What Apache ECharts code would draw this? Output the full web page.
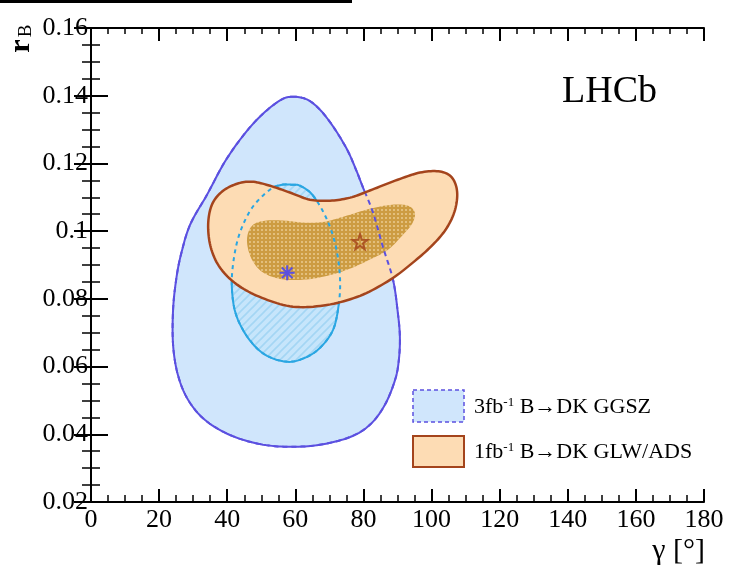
<!DOCTYPE html>
<html><head><meta charset="utf-8">
<script src="https://cdn.jsdelivr.net/npm/echarts@6/dist/echarts.min.js"></script>
<style>html,body{margin:0;padding:0;background:#fff}#c{width:739px;height:576px}</style>
</head><body><div id="c"></div>
<script>
// ---- data (gamma in degrees, r_B) ----
const xTicks = [0,20,40,60,80,100,120,140,160,180];
const yTicks = [0.02,0.04,0.06,0.08,0.1,0.12,0.14,0.16];
const ggszOuter = [[59.0,0.1397],[63.4,0.1389],[67.2,0.1359],[71.1,0.1309],[75.2,0.1241],[77.8,0.1182],[79.9,0.1128],[82.8,0.1055],[85.7,0.0954],[88.7,0.0856],[90.1,0.0759],[90.7,0.0688],[90.4,0.0620],[89.3,0.0561],[86.3,0.0487],[81.9,0.0428],[76.1,0.0392],[67.2,0.0369],[58.4,0.0363],[49.6,0.0371],[40.8,0.0398],[33.5,0.0442],[28.5,0.0502],[25.5,0.0576],[24.1,0.0664],[24.1,0.0768],[25.0,0.0856],[26.4,0.0930],[29.1,0.1019],[34.1,0.1108],[39.3,0.1205],[44.9,0.1285],[50.2,0.1344],[55.5,0.1386]];
const ggszInner = [[59.0,0.1137],[61.4,0.1134],[65.2,0.1105],[69.3,0.1034],[71.9,0.0954],[73.1,0.0865],[72.8,0.0788],[71.1,0.0709],[67.2,0.0655],[62.8,0.0626],[57.6,0.0614],[51.1,0.0635],[46.1,0.0685],[42.6,0.0753],[41.4,0.0827],[41.7,0.0901],[43.5,0.0989],[47.3,0.1069],[52.6,0.1123],[56.1,0.1137]];
const glwOuter = [[34.4,0.1019],[35.5,0.1078],[38.5,0.1117],[42.9,0.1140],[47.3,0.1146],[52.6,0.1134],[58.4,0.1114],[64.3,0.1093],[70.2,0.1090],[76.1,0.1099],[81.9,0.1120],[89.3,0.1149],[96.6,0.1173],[102.5,0.1176],[106.0,0.1158],[107.5,0.1117],[106.9,0.1063],[104.5,0.1010],[100.4,0.0960],[94.5,0.0907],[87.8,0.0856],[79.0,0.0809],[69.3,0.0782],[59.3,0.0777],[50.2,0.0803],[42.9,0.0842],[37.9,0.0892],[35.2,0.0951]];
const glwInner = [[45.8,0.0975],[47.3,0.1016],[51.1,0.1031],[57.0,0.1031],[62.8,0.1025],[68.7,0.1028],[75.2,0.1046],[81.9,0.1066],[88.4,0.1078],[93.1,0.1075],[95.1,0.1054],[94.3,0.1022],[91.3,0.0986],[87.2,0.0945],[81.9,0.0916],[75.2,0.0886],[68.1,0.0865],[61.4,0.0856],[55.5,0.0859],[50.2,0.0880],[47.0,0.0921]];
const ggszBest = [[57.6,0.0877]];
const glwBest = [[79.0,0.0969]];
const legendLabels = ['3fb','-1',' B\u2192DK GGSZ','1fb','-1',' B\u2192DK GLW/ADS'];

// ---- styles ----
const SERIF = 'Liberation Serif, Times New Roman, serif';
const C_BLUE_FILL = '#d0e6fc', C_PURPLE = '#5b50e0', C_CYAN = '#2aa6e2';
const C_ORANGE = '#fddcb4', C_BROWN = '#a4441c';

function makeDots(){
  const c=document.createElement('canvas'); c.width=4; c.height=4;
  const g=c.getContext('2d'); g.fillStyle='#cd9c42'; g.fillRect(0,0,4,4);
  g.fillStyle='#e3bf7c'; g.fillRect(1,1,2,2); return c;
}
function makeHatch(){
  const c=document.createElement('canvas'); c.width=8; c.height=8;
  const g=c.getContext('2d'); g.fillStyle='#c6e5fb'; g.fillRect(0,0,8,8);
  g.strokeStyle='#a4d6f4'; g.lineWidth=1.6;
  g.beginPath(); g.moveTo(-2,10); g.lineTo(10,-2); g.moveTo(-6,6); g.lineTo(6,-6); g.moveTo(2,14); g.lineTo(14,2); g.stroke();
  return c;
}
const dotPattern = {image: makeDots(), repeat: 'repeat'};
const hatchPattern = {image: makeHatch(), repeat: 'repeat'};

// closed Catmull-Rom smoothing in pixel space (for drawing only)
function smoothClosed(P, n){
  const out=[]; const N=P.length;
  for(let i=0;i<N;i++){
    const p0=P[(i-1+N)%N], p1=P[i], p2=P[(i+1)%N], p3=P[(i+2)%N];
    for(let k=0;k<n;k++){
      const t=k/n, t2=t*t, t3=t2*t;
      const f=(a,b,c,d)=>0.5*((2*b)+(-a+c)*t+(2*a-5*b+4*c-d)*t2+(-a+3*b-3*c+d)*t3);
      out.push([f(p0[0],p1[0],p2[0],p3[0]), f(p0[1],p1[1],p2[1],p3[1])]);
    }
  }
  return out;
}

function poly(name, pts, style, z){
  return {
    type:'custom', name, z, silent:true, clip:true,
    data: pts,
    encode:{x:0,y:1},
    renderItem: function(params, api){
      if (params.dataIndex !== 0) return null;
      const points = smoothClosed(pts.map(p => api.coord(p)), 10);
      return {type:'polygon', shape:{points}, style: Object.assign({}, style)};
    }
  };
}

const series = [
  poly('ggszOuterFill', ggszOuter, {fill:C_BLUE_FILL, stroke:C_PURPLE, lineWidth:2}, 2),
  poly('ggszInnerFill', ggszInner, {fill:hatchPattern, stroke:C_CYAN, lineWidth:2}, 3),
  poly('glwOuterFill', glwOuter, {fill:C_ORANGE, stroke:null}, 4),
  poly('glwInnerFill', glwInner, {fill:dotPattern, stroke:null}, 5),
  poly('ggszOuterDash', ggszOuter, {fill:null, stroke:C_PURPLE, lineWidth:2, lineDash:[5,4]}, 6),
  poly('ggszInnerDash', ggszInner, {fill:null, stroke:C_CYAN, lineWidth:2, lineDash:[4,4]}, 6),
  poly('glwOuterLine', glwOuter, {fill:null, stroke:C_BROWN, lineWidth:2.5}, 7),
  {
    type:'custom', name:'ggszBest', z:8, silent:true, data: ggszBest, encode:{x:0,y:1},
    renderItem: function(params, api){
      const c = api.coord([api.value(0), api.value(1)]); const r = 7.5;
      return {type:'group', children:[0,45,90,135].map(a => {
        const t=a*Math.PI/180;
        return {type:'line', shape:{x1:c[0]-r*Math.cos(t), y1:c[1]-r*Math.sin(t), x2:c[0]+r*Math.cos(t), y2:c[1]+r*Math.sin(t)}, style:{stroke:C_PURPLE, lineWidth:2}};
      })};
    }
  },
  {
    type:'scatter', name:'glwBest', z:8, silent:true, data: glwBest,
    symbol:'path://M0,-10 L2.35,-3.24 L9.51,-3.09 L3.8,1.24 L5.88,8.09 L0,4 L-5.88,8.09 L-3.8,1.24 L-9.51,-3.09 L-2.35,-3.24Z',
    symbolSize:15,
    itemStyle:{color:'rgba(0,0,0,0)', borderColor:C_BROWN, borderWidth:2}
  }
];

const axisLine = {show:true, lineStyle:{color:'#000', width:2}};
const fmtY = v => String(Math.round(v*100)/100);

const option = {
  animation:false,
  grid:{left:91, right:35, top:28, bottom:74, containLabel:false},
  xAxis:[
    {type:'value', position:'bottom', min:xTicks[0], max:xTicks[xTicks.length-1], interval:20,
     axisLine, splitLine:{show:false},
     axisTick:{show:true, inside:true, length:13, lineStyle:{color:'#000', width:2}},
     minorTick:{show:true, splitNumber:4, length:7, lineStyle:{color:'#000', width:1.5}},
     axisLabel:{show:true, margin:5, color:'#000', fontFamily:SERIF, fontSize:26}},
    {type:'value', position:'top', min:xTicks[0], max:xTicks[xTicks.length-1], interval:20,
     axisLine, splitLine:{show:false},
     axisTick:{show:true, inside:true, length:13, lineStyle:{color:'#000', width:2}},
     minorTick:{show:true, splitNumber:4, length:6, lineStyle:{color:'#000', width:1.5}},
     axisLabel:{show:false}}
  ],
  yAxis:[
    {type:'value', position:'left', min:yTicks[0], max:yTicks[yTicks.length-1], interval:0.02,
     axisLine, splitLine:{show:false},
     axisTick:{show:true, inside:true, length:17, lineStyle:{color:'#000', width:2}},
     minorTick:{show:true, splitNumber:4, length:9, lineStyle:{color:'#000', width:1.5}},
     axisLabel:{show:true, margin:3, color:'#000', fontFamily:SERIF, fontSize:26, formatter:fmtY}},
    {type:'value', position:'right', min:yTicks[0], max:yTicks[yTicks.length-1], interval:0.02,
     axisLine, splitLine:{show:false},
     axisTick:{show:true, inside:true, length:17, lineStyle:{color:'#000', width:2}},
     minorTick:{show:true, splitNumber:4, length:9, lineStyle:{color:'#000', width:1.5}},
     axisLabel:{show:false}}
  ],
  series,
  graphic:[
    {type:'rect', shape:{x:0,y:0,width:352,height:3}, style:{fill:'#000'}, silent:true},
    {type:'text', x:562, y:92, style:{text:'LHCb', fontFamily:SERIF, fontSize:38, fill:'#000', verticalAlign:'middle', align:'left'}, z:100},
    {type:'text', x:705, y:551, style:{text:'\u03b3 [\u00b0]', fontFamily:SERIF, fontSize:30, fill:'#000', verticalAlign:'middle', align:'right'}, z:100},
    {type:'text', x:21, y:46, rotation:Math.PI/2, style:{text:'r', fontFamily:SERIF, fontSize:30, fontWeight:'bold', fill:'#000', verticalAlign:'middle', align:'center'}, z:100},
    {type:'text', x:26, y:31, rotation:Math.PI/2, style:{text:'B', fontFamily:SERIF, fontSize:19, fill:'#000', verticalAlign:'middle', align:'center'}, z:100},
    {type:'rect', shape:{x:413,y:390,width:51,height:32}, style:{fill:C_BLUE_FILL, stroke:C_PURPLE, lineWidth:1.5, lineDash:[4,3]}, z:100},
    {type:'rect', shape:{x:413,y:436,width:51,height:31}, style:{fill:C_ORANGE, stroke:C_BROWN, lineWidth:2}, z:100},
    {type:'text', x:474, y:407, style:{text:'{n|'+legendLabels[0]+'}{s|'+legendLabels[1]+'}{n|'+legendLabels[2]+'}', verticalAlign:'middle', align:'left',
      rich:{n:{fontFamily:SERIF, fontSize:22, fill:'#000'}, s:{fontFamily:SERIF, fontSize:13, fill:'#000', verticalAlign:'top'}}}, z:100},
    {type:'text', x:474, y:452, style:{text:'{n|'+legendLabels[3]+'}{s|'+legendLabels[4]+'}{n|'+legendLabels[5]+'}', verticalAlign:'middle', align:'left',
      rich:{n:{fontFamily:SERIF, fontSize:22, fill:'#000'}, s:{fontFamily:SERIF, fontSize:13, fill:'#000', verticalAlign:'top'}}}, z:100}
  ]
};
const chart = echarts.init(document.getElementById('c'), null, {renderer:'canvas'});
chart.setOption(option);
</script></body></html>
